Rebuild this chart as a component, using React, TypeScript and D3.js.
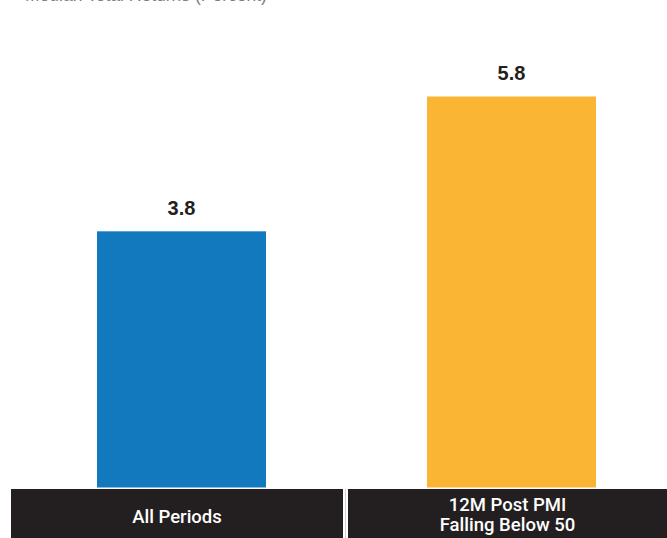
import React from "react";
import * as d3 from "d3";

const categories: string[][] = [["All Periods"], ["12M Post PMI", "Falling Below 50"]];
const values: number[] = [3.8, 5.8];
const colors: string[] = ["#1279be", "#fbb535"];
const title = "Median Total Returns (Percent)";

const W = 667;
const H = 538;

export default function App() {
  const x = d3.scaleBand<number>().domain([0, 1]).range([16.5, 676.5]).paddingInner(0).paddingOuter(0);
  const y = d3.scaleLinear().domain([0, 6]).range([487.5, 83]);
  const barW = 169;
  return (
    <svg width={W} height={H} style={{ position: "absolute", left: 0, top: 0 }} fontFamily="'Liberation Sans', Arial, sans-serif">
      <text x={25} y={1} fontSize={17.5} fill="#808080">{title}</text>
      {values.map((v, i) => {
        const cx = (x(i) as number) + x.bandwidth() / 2;
        return (
          <g key={i}>
            <rect x={cx - barW / 2} y={y(v)} width={barW} height={y(0) - y(v)} fill={colors[i]} />
            <text x={cx} y={y(v) - 16} textAnchor="middle" fontSize={20} fontWeight="bold" fill="#231f20">{v.toFixed(1)}</text>
          </g>
        );
      })}
      {categories.map((lines, i) => {
        const x0 = i === 0 ? 11 : 348;
        const x1 = i === 0 ? 343 : 667;
        const cx = (x0 + x1) / 2;
        const top = 489;
        const base = lines.length === 1 ? 523 : 511;
        return (
          <g key={i}>
            <rect x={x0} y={top} width={x1 - x0} height={H - top} fill="#231f20" />
            {lines.map((l, j) => (
              <text key={j} x={cx} y={base + j * 20} textAnchor="middle" fontSize={18.5} fontWeight={500} fontFamily="Roboto, sans-serif" fill="#ffffff">{l}</text>
            ))}
          </g>
        );
      })}
      <line x1={345.5} x2={345.5} y1={489} y2={H} stroke="#d0d0d0" strokeWidth={1} />
    </svg>
  );
}
